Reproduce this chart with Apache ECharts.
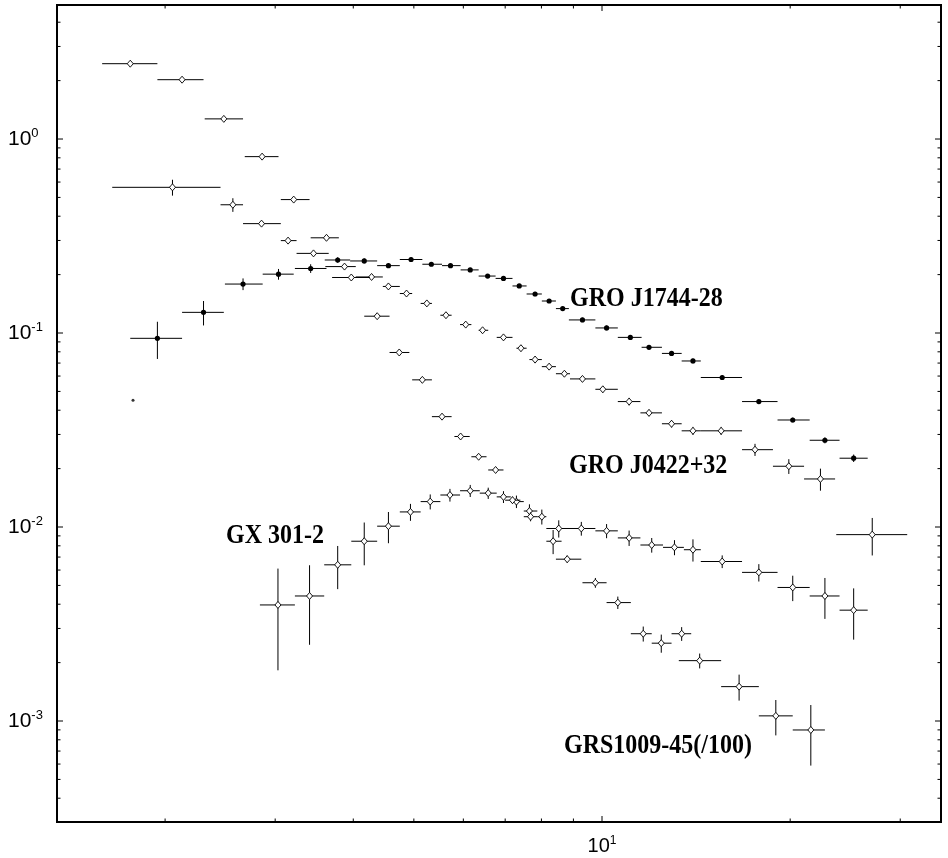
<!DOCTYPE html>
<html><head><meta charset="utf-8">
<script src="https://cdn.jsdelivr.net/npm/echarts@6/dist/echarts.min.js"></script>
<style>html,body{margin:0;padding:0;background:#fff}#c{width:948px;height:858px}</style>
</head><body><div id="c"></div>
<script>
// ---- data (energy keV, flux) ----
const j1744X   = [1.944,2.304,2.665,3.037,3.419,3.777,4.165,4.553,4.949,5.333,5.723,6.154,6.562,6.956,7.372,7.815,8.230,8.652,9.305,10.17,11.10,11.89,12.92,13.98,15.57,17.82,20.19,22.73,25.27];
const j1744XLo = [1.759,2.129,2.493,2.865,3.226,3.601,3.954,4.368,4.748,5.159,5.547,5.940,6.348,6.757,7.191,7.575,8.012,8.439,8.851,9.759,10.60,11.57,12.47,13.41,14.39,16.75,19.09,21.49,23.99];
const j1744XHi = [2.129,2.483,2.865,3.212,3.624,3.954,4.368,4.748,5.159,5.547,5.940,6.348,6.757,7.191,7.575,8.012,8.439,8.851,9.759,10.60,11.57,12.47,13.41,14.39,16.75,19.09,21.49,23.99,26.61];
const j1744Y   = [0.0939,0.1278,0.1788,0.2011,0.2151,0.2379,0.2352,0.2225,0.2393,0.2262,0.2225,0.2115,0.1966,0.1912,0.1748,0.1589,0.1462,0.1336,0.1168,0.1062,0.09495,0.08442,0.07849,0.07176,0.05898,0.04432,0.03562,0.02800,0.02263];
const j1744YErr= [0.0204,0.0184,0.0124,0.0128,0.0111,0.008,0.007,0.006,0.006,0.005,0.005,0.005,0.004,0.004,0.004,0.004,0.003,0.003,0.003,0.003,0.002,0.002,0.002,0.002,0.0015,0.0012,0.001,0.001,0.001];
const strayPoint = [1.777, 0.04508];

const j0422X   = [2.055,2.567,2.853,3.146,3.455,3.873,4.279,4.553,4.867,5.245,5.628,6.053,6.441,6.956,7.418,7.815,8.230,8.706,9.305,10.03,11.05,11.89,12.92,13.98,15.51,17.57,19.90,22.36,27.06];
const j0422XLo = [1.646,2.453,2.665,3.063,3.246,3.609,4.037,4.460,4.748,5.127,5.513,5.928,6.348,6.785,7.296,7.654,8.012,8.439,8.888,9.759,10.60,11.52,12.47,13.41,14.39,16.75,18.77,21.05,23.70];
const j0422XHi = [2.453,2.665,3.063,3.246,3.654,4.037,4.460,4.748,4.969,5.344,5.746,6.180,6.576,7.191,7.575,8.012,8.439,8.888,9.759,10.60,11.52,12.47,13.41,14.39,16.75,18.77,21.05,23.60,30.78];
const j0422Y   = [0.5637,0.4582,0.3663,0.2994,0.2573,0.2200,0.1945,0.1738,0.1598,0.1421,0.1235,0.1105,0.1033,0.09495,0.08349,0.07297,0.06709,0.06168,0.05800,0.05128,0.04432,0.03876,0.03406,0.03132,0.03132,0.02504,0.02057,0.01769,0.009135];
const j0422YErr= [0.053,0.037,0.008,0.010,0.006,0.005,0.004,0.006,0.004,0.004,0.004,0.003,0.003,0.003,0.003,0.003,0.002,0.002,0.002,0.002,0.002,0.0015,0.0015,0.0015,0.0015,0.0018,0.0018,0.0023,0.0020];

const grsX   = [1.759,2.129,2.483,2.859,3.212,3.624,3.971,4.368,4.738,5.159,5.547,5.940,6.348,6.757,7.191,7.686,8.352,8.797,9.759,10.60,11.64,12.44,13.41,14.33,16.57,18.97,21.58];
const grsXLo = [1.586,1.944,2.314,2.682,3.063,3.419,3.700,4.165,4.572,4.969,5.344,5.806,6.180,6.576,6.999,7.496,8.146,8.439,9.305,10.17,11.12,12.01,12.92,13.27,15.51,17.82,20.19];
const grsXHi = [1.944,2.304,2.665,3.037,3.405,3.793,4.252,4.572,4.918,5.344,5.746,6.142,6.535,6.956,7.403,7.880,8.616,9.266,10.17,11.12,12.01,12.92,13.89,15.51,17.82,20.19,22.73];
const grsY   = [2.445,2.022,1.270,0.8113,0.4873,0.3096,0.1933,0.1221,0.07937,0.05735,0.03706,0.02928,0.02302,0.01968,0.01375,0.01130,0.008448,0.006827,0.005161,0.004078,0.002818,0.002519,0.002818,0.002047,0.001504,0.001063,0.000899];
const grsYErr= [0.03,0.03,0.02,0.012,0.008,0.005,0.003,0.003,0.002,0.0015,0.001,0.0008,0.0007,0.0006,0.0006,0.0006,0.0012,0.0003,0.0003,0.0003,0.00025,0.00027,0.00023,0.00018,0.00023,0.00022,0.00031];

const gxX   = [3.031,3.405,3.777,4.165,4.553,4.938,5.311,5.711,6.154,6.576,6.956,7.296,7.654,8.012,8.527,9.266,10.17,11.05,12.01,13.06,13.98,15.57,17.82,20.19,22.73,25.27];
const gxXLo = [2.836,3.226,3.594,3.971,4.368,4.748,5.127,5.513,5.928,6.374,6.785,7.146,7.496,7.880,8.146,8.888,9.759,10.60,11.52,12.52,13.52,14.39,16.75,19.09,21.49,23.99];
const gxXHi = [3.226,3.594,3.971,4.368,4.748,5.127,5.513,5.928,6.374,6.785,7.146,7.496,7.880,8.146,8.888,9.759,10.60,11.52,12.52,13.52,14.39,16.75,19.09,21.49,23.99,26.61];
const gxY   = [0.003965,0.004411,0.006384,0.008448,0.01010,0.01196,0.01352,0.01462,0.01538,0.01495,0.01430,0.01352,0.01209,0.01130,0.009826,0.009826,0.009555,0.008786,0.008077,0.007854,0.007637,0.006640,0.005836,0.004880,0.004411,0.003727];
const gxYErr= [0.00214,0.00194,0.0016,0.0021,0.00185,0.0012,0.0012,0.0011,0.0011,0.001,0.001,0.001,0.001,0.001,0.001,0.0008,0.0008,0.0008,0.0007,0.0007,0.001,0.0005,0.0006,0.00073,0.00105,0.0011];

const seriesNames = ['GRO J1744-28','GRO J0422+32','GX 301-2','GRS1009-45(/100)'];

// axis ranges and ticks
const xRange = [1.343, 34.86];
const yRange = [3.016e-4, 4.907];
const xMajorTicks = [10];
const xMinorTicks = [2,3,4,5,6,7,8,9,20,30];
const yMajorTicks = [0.001,0.01,0.1,1];
const yMinorTicks = [0.0004,0.0005,0.0006,0.0007,0.0008,0.0009,0.002,0.003,0.004,0.005,0.006,0.007,0.008,0.009,
  0.02,0.03,0.04,0.05,0.06,0.07,0.08,0.09,0.2,0.3,0.4,0.5,0.6,0.7,0.8,0.9,2,3,4];

function rows(x, xl, xh, y, ye){ return x.map((v,i)=>[v, y[i], xl[i], xh[i], ye[i]]); }

function errRender(marker){
  return function(params, api){
    const x=api.value(0), y=api.value(1), xl=api.value(2), xh=api.value(3), ye=api.value(4);
    const c=api.coord([x,y]), l=api.coord([xl,y]), h=api.coord([xh,y]);
    const t=api.coord([x,y+ye]), b=api.coord([x,Math.max(y-ye,1e-9)]);
    const st={stroke:'#000', lineWidth:1};
    const ch=[
      {type:'line', shape:{x1:l[0],y1:c[1],x2:h[0],y2:c[1]}, style:st},
      {type:'line', shape:{x1:c[0],y1:t[1],x2:c[0],y2:b[1]}, style:st}
    ];
    if(marker==='dot') ch.push({type:'circle', shape:{cx:c[0],cy:c[1],r:2.6}, style:{fill:'#000'}});
    else ch.push({type:'polygon', shape:{points:[[c[0],c[1]-3.5],[c[0]+3,c[1]],[c[0],c[1]+3.5],[c[0]-3,c[1]]]}, style:{fill:'#fff',stroke:'#000',lineWidth:0.9}});
    return {type:'group', children:ch};
  };
}

function tickRender(params, api){
  const cs=params.coordSys;
  const v=api.value(0), w=api.value(1), kind=api.value(2), major=api.value(3);
  const L = major ? 6 : 3.5;
  const st={stroke:'#000', lineWidth:1};
  if(kind===0){
    const px=api.coord([v,1])[0];
    return {type:'group',children:[
      {type:'line',shape:{x1:px,y1:cs.y+cs.height,x2:px,y2:cs.y+cs.height-L},style:st},
      {type:'line',shape:{x1:px,y1:cs.y,x2:px,y2:cs.y+L},style:st}]};
  } else {
    const py=api.coord([10,w])[1];
    return {type:'group',children:[
      {type:'line',shape:{x1:cs.x,y1:py,x2:cs.x+L,y2:py},style:st},
      {type:'line',shape:{x1:cs.x+cs.width,y1:py,x2:cs.x+cs.width-L,y2:py},style:st}]};
  }
}
const tickData = [].concat(
  xMajorTicks.map(v=>[v,1,0,1]), xMinorTicks.map(v=>[v,1,0,0]),
  yMajorTicks.map(v=>[10,v,1,1]), yMinorTicks.map(v=>[10,v,1,0]));

function powLabel(v){
  const e=Math.log10(v), r=Math.round(e);
  if(Math.abs(e-r)>1e-6) return '';
  return '{a|10}{b|'+r+'}';
}

const chart = echarts.init(document.getElementById('c'), null, {renderer:'canvas'});
const labFont = {fontFamily:'Liberation Sans', color:'#000'};
const txt = (s, left, top) => ({type:'text', left, top, style:{text:s, font:'bold 24px "Liberation Serif"', fill:'#000'}, scaleY:1.1});
chart.setOption({
  animation:false,
  backgroundColor:'#fff',
  grid:{left:57, top:5, width:884, height:817, show:true, borderColor:'#000', borderWidth:2, backgroundColor:'transparent'},
  xAxis:{type:'log', logBase:10, min:xRange[0], max:xRange[1],
    axisLine:{show:false}, axisTick:{show:false}, splitLine:{show:false}, minorTick:{show:false},
    axisLabel:{formatter:powLabel, margin:13, showMinLabel:false, showMaxLabel:false,
      rich:{a:Object.assign({fontSize:20, lineHeight:22},labFont), b:Object.assign({fontSize:12, verticalAlign:'top', lineHeight:22},labFont)}}},
  yAxis:{type:'log', logBase:10, min:yRange[0], max:yRange[1],
    axisLine:{show:false}, axisTick:{show:false}, splitLine:{show:false}, minorTick:{show:false},
    axisLabel:{formatter:powLabel, margin:49, align:'left', showMinLabel:false, showMaxLabel:false,
      rich:{a:Object.assign({fontSize:21, lineHeight:24},labFont), b:Object.assign({fontSize:13, verticalAlign:'top', lineHeight:24},labFont)}}},
  graphic:[
    txt(seriesNames[0], 570, 286),
    txt(seriesNames[1], 569, 453),
    txt(seriesNames[2], 226, 523),
    txt(seriesNames[3], 564, 733)
  ],
  series:[
    {type:'custom', name:'ticks', renderItem:tickRender, data:tickData, silent:true, z:5},
    {type:'custom', name:seriesNames[0], renderItem:errRender('dot'), data:rows(j1744X,j1744XLo,j1744XHi,j1744Y,j1744YErr), encode:{x:0,y:1}},
    {type:'scatter', name:seriesNames[0]+' extra', data:[strayPoint], symbol:'circle', symbolSize:3, itemStyle:{color:'#000'}},
    {type:'custom', name:seriesNames[1], renderItem:errRender('open'), data:rows(j0422X,j0422XLo,j0422XHi,j0422Y,j0422YErr), encode:{x:0,y:1}},
    {type:'custom', name:seriesNames[2], renderItem:errRender('open'), data:rows(gxX,gxXLo,gxXHi,gxY,gxYErr), encode:{x:0,y:1}},
    {type:'custom', name:seriesNames[3], renderItem:errRender('open'), data:rows(grsX,grsXLo,grsXHi,grsY,grsYErr), encode:{x:0,y:1}}
  ]
});
</script></body></html>
